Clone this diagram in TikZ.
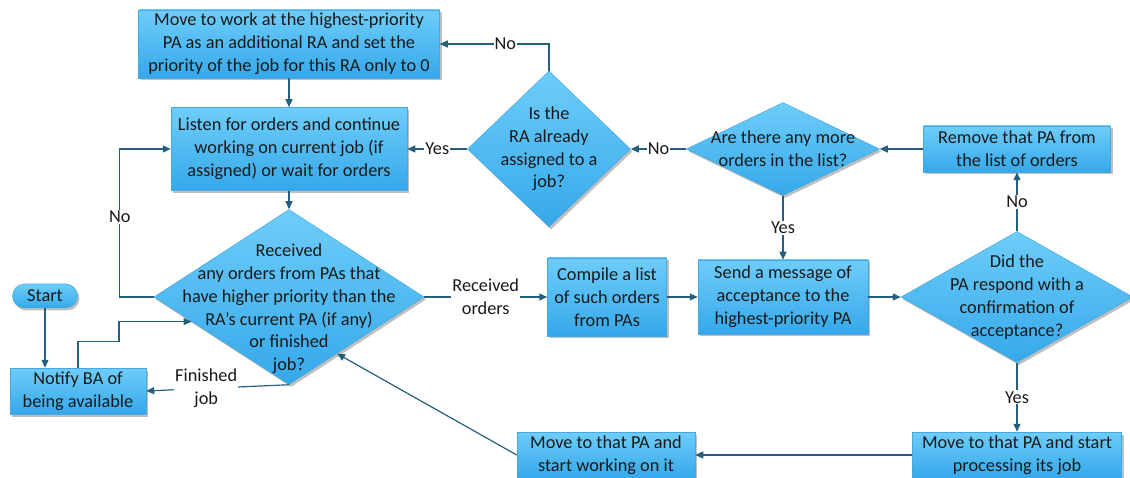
\documentclass[tikz,border=0pt]{standalone}
\usepackage{fontspec}
\setmainfont{Carlito}
\usetikzlibrary{shapes.geometric,arrows.meta,shadows,calc}
\definecolor{boxtop}{HTML}{6ECDF9}
\definecolor{boxbot}{HTML}{35A8EA}
\definecolor{boxedge}{HTML}{45A8E0}
\definecolor{linec}{HTML}{245F7E}
\definecolor{txt}{HTML}{1A1A1A}
\begin{document}
\begin{tikzpicture}[x=1pt,y=-1pt,
  font=\fontsize{18.3}{22.8}\selectfont, text=txt,
  base/.style={top color=boxtop, bottom color=boxbot, draw=boxedge, line width=0.5pt,
    drop shadow={shadow xshift=2pt, shadow yshift=-2.5pt, fill=black, opacity=0.25},
    inner sep=0pt, align=center},
  box/.style={base, rectangle},
  dec/.style={base, diamond},
  dtext/.style={align=center, text=txt, inner sep=0pt},
  term/.style={base, rounded corners=12pt},
  conn/.style={draw=linec, line width=1.2pt, -{Triangle[length=8pt,width=7pt]}},
  lab/.style={fill=white, inner sep=1pt, text=txt, align=center}
]
\useasboundingbox (0,0) rectangle (1130,478);

\node[box, minimum width=301, minimum height=68] (b1) at (289,44)
  {Move to work at the highest-priority\\PA as an additional RA and set the\\priority of the job for this RA only to 0};
\node[box, minimum width=236, minimum height=83] (b2) at (289,149)
  {Listen for orders and continue\\working on current job (if\\assigned) or wait for orders};
\node[dec, minimum width=163, minimum height=156,
  label={[dtext]center:{Is the\\RA already\\assigned to a\\job?}}] (d1) at (549,149) {};
\node[dec, minimum width=193, minimum height=93,
  label={[dtext]center:{Are there any more\\orders in the list?}}] (d3) at (783,149) {};
\node[box, minimum width=187, minimum height=46] (rm) at (1017,149)
  {Remove that PA from\\the list of orders};
\node[dec, minimum width=270, minimum height=175,
  label={[dtext, yshift=-12pt]center:{Received\\any orders from PAs that\\have higher priority than the\\RA’s current PA (if any)\\or finished\\job?}}] (d2) at (289,297) {};
\node[term, minimum width=65, minimum height=24] (st) at (45,296) {Start};
\node[box, minimum width=136, minimum height=46] (nb) at (78,391) {Notify BA of\\being available};
\node[box, minimum width=119, minimum height=78] (cp) at (607,297) {Compile a list\\of such orders\\from PAs};
\node[box, minimum width=170, minimum height=74] (sm) at (783,297) {Send a message of\\acceptance to the\\highest-priority PA};
\node[dec, minimum width=232, minimum height=131,
  label={[dtext]center:{Did the\\PA respond with a\\confirmation of\\acceptance?}}] (d4) at (1017,297) {};
\node[box, minimum width=209, minimum height=46] (m1) at (1017,455) {Move to that PA and start\\processing its job};
\node[box, minimum width=178, minimum height=46] (m2) at (606,455) {Move to that PA and\\start working on it};

\draw[conn] (b1) -- (b2);
\draw[conn] (b2) -- (d2);
\draw[conn] (d1.north) |- node[lab,pos=0.7]{No} (b1.east);
\draw[conn] (d1.west) -- node[lab]{Yes} (b2.east);
\draw[conn] (d3.west) -- node[lab]{No} (d1.east);
\draw[conn] (rm.west) -- (d3.east);
\draw[conn] (d4.north) -- node[lab]{No} (rm.south);
\draw[conn] (d3.south) -- node[lab]{Yes} (sm.north);
\draw[conn] (d2.east) -- node[lab]{Received\\orders} (cp.west);
\draw[conn] (cp.east) -- (sm.west);
\draw[conn] (sm.east) -- (d4.west);
\draw[conn] (d4.south) -- node[lab]{Yes} (m1.north);
\draw[conn] (m1.west) -- (m2.east);
\draw[conn] (m2.west) -- ($(d2.south)!0.355!(d2.east)$);
\draw[conn] (d2.south) -- node[lab,pos=0.58]{Finished\\job} (nb.east);
\draw[conn] (d2.west) -- ++(-34,0) |- node[lab,pos=0.27]{No} (b2.west);
\draw[conn] (st.south) -- (st.south |- nb.north);
\draw[conn] (nb.north) -- ++(0,-26) -- ++(41,0) |- ($(d2.west)!0.28!(d2.south)$);
\end{tikzpicture}
\end{document}
